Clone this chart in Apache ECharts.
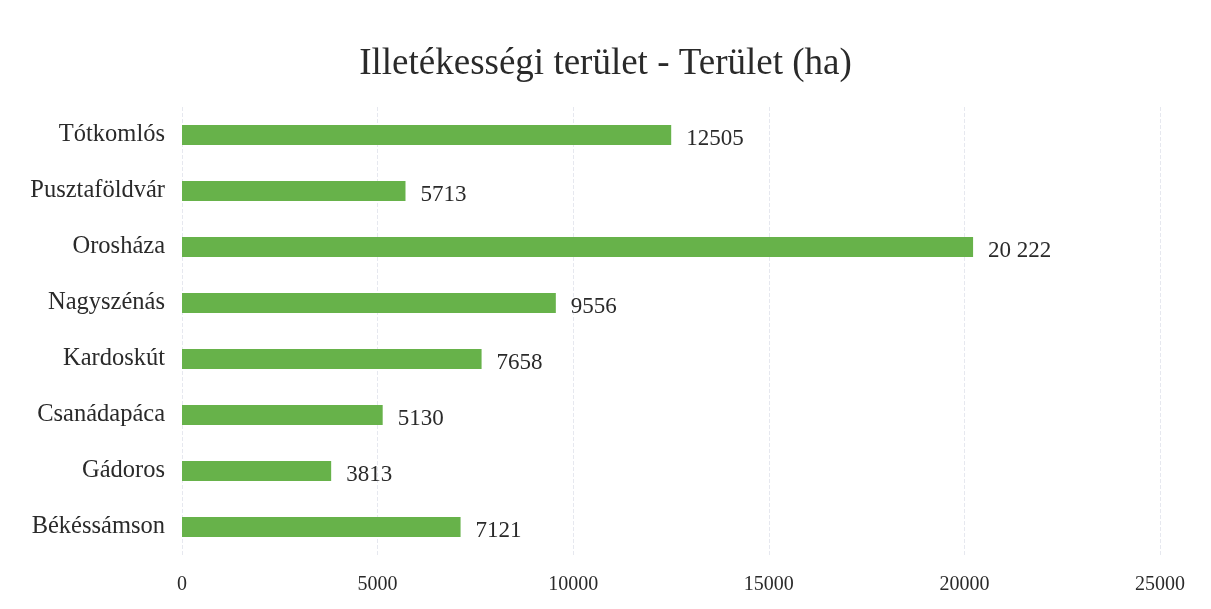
<!DOCTYPE html>
<html>
<head>
<meta charset="utf-8">
<script src="https://cdn.jsdelivr.net/npm/echarts@6/dist/echarts.min.js"></script>
<style>
    html, body {margin: 0; padding: 0; background: #fff;}
    #chart {width: 1211px; height: 609px;}
</style>
</head>
<body>
<div id="chart"></div>
<script>
    // ordered bottom to top (category axis on y)
    const categories = ['Békéssámson', 'Gádoros', 'Csanádapáca', 'Kardoskút', 'Nagyszénás', 'Orosháza', 'Pusztaföldvár', 'Tótkomlós']
    const values = [7121, 3813, 5130, 7658, 9556, 20222, 5713, 12505]
    const valueLabels = ['7121', '3813', '5130', '7658', '9556', '20 222', '5713', '12505']
    const xTicks = [0, 5000, 10000, 15000, 20000, 25000]

    const serif = '"Liberation Serif", "DejaVu Serif", serif'

    const myChart = echarts.init(document.getElementById('chart'))
    myChart.setOption({
        animation: false,
        title: {
            text: 'Illetékességi terület - Terület (ha)',
            left: 'center',
            top: 41,
            textStyle: {fontFamily: serif, fontSize: 37, fontWeight: 'normal', color: '#2a2a2a'}
        },
        grid: {left: 182, right: 51, top: 107, bottom: 54},
        xAxis: {
            type: 'value',
            min: xTicks[0],
            max: xTicks[xTicks.length - 1],
            interval: 5000,
            axisLine: {show: false},
            axisTick: {show: false},
            axisLabel: {fontFamily: serif, fontSize: 20, color: '#2a2a2a', margin: 20, formatter: v => String(v)},
            splitLine: {show: true, lineStyle: {color: '#e6e8ef', type: 'dashed', width: 1}}
        },
        yAxis: {
            type: 'category',
            data: categories,
            axisLine: {show: false},
            axisTick: {show: false},
            axisLabel: {fontFamily: serif, fontSize: 24.5, color: '#2a2a2a', margin: 17},
            splitLine: {show: false}
        },
        series: [{
            type: 'bar',
            data: values,
            barWidth: 20,
            itemStyle: {color: '#67b24a'},
            label: {
                show: true,
                position: 'right',
                distance: 15,
                fontFamily: serif,
                fontSize: 23,
                color: '#2a2a2a',
                offset: [0, 4],
                formatter: p => valueLabels[p.dataIndex]
            }
        }]
    })
</script>
</body>
</html>
